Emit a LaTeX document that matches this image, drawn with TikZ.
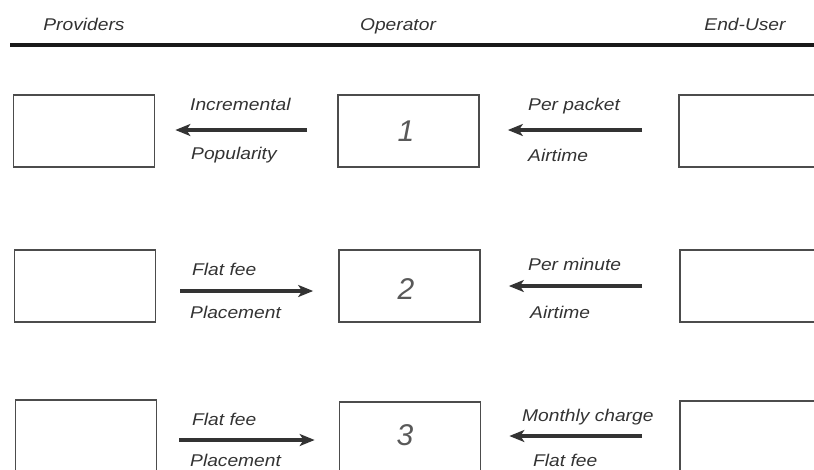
\documentclass[tikz,border=0pt]{standalone}
\usepackage{fontspec}
\usepackage{graphicx}
\setmainfont{Liberation Sans}
\usetikzlibrary{arrows.meta}
\newcommand{\wide}[1]{\scalebox{1.13}[1]{#1}}
\tikzset{
  box/.style={draw=black!70, line width=1.7pt, minimum width=141pt, minimum height=72pt, inner sep=0pt},
  lbl/.style={anchor=base west, inner sep=0pt, text=black!80, font=\fontsize{17}{20}\selectfont\itshape},
  hdr/.style={anchor=base, inner sep=0pt, text=black!80, font=\fontsize{17}{20}\selectfont\itshape},
  digit/.style={inner sep=0pt, text=black!65, font=\fontsize{30}{34}\selectfont\itshape},
  arr/.style={draw=black!80, line width=4pt, -{Stealth[length=15pt,width=12pt,inset=4pt]}}
}
\begin{document}
\begin{tikzpicture}[x=1pt,y=-1pt]
\useasboundingbox (0,0) rectangle (814,469);
\clip (0,0) rectangle (814,469);
% header
\node[hdr] (hP) at (84,30) {\wide{Providers}};
\node[hdr] (hO) at (398,30) {\wide{Operator}};
\node[hdr] (hE) at (745,30) {\wide{End-User}};
\coordinate (l0) at (10,45);
\coordinate (l1) at (820,45);
\draw[line width=4.5pt, black!90] (l0) -- (l1);
% row 1
\node[box] (p1) at (84,131) {};
\node[box] (m1) at (408.5,131) {};
\node[box] (e1) at (749.5,131) {};
\node[digit] (d1) at (406,131) {1};
\draw[arr] ([xshift=-30pt,yshift=1pt]m1.west) -- ([xshift=20pt,yshift=1pt]p1.east);
\draw[arr] ([xshift=-36pt,yshift=1pt]e1.west) -- ([xshift=28pt,yshift=1pt]m1.east);
\node[lbl] (a1) at (190,110) {\wide{Incremental}};
\node[lbl] (b1) at (191,159) {\wide{Popularity}};
\node[lbl] (c1) at (528,110) {\wide{Per packet}};
\node[lbl] (f1) at (528,161) {\wide{Airtime}};
% row 2
\node[box] (p2) at (85,286) {};
\node[box] (m2) at (409.5,286) {};
\node[box] (e2) at (750.5,286) {};
\node[digit] (d2) at (406,289) {2};
\draw[arr] ([xshift=24pt,yshift=-5pt]p2.east) -- ([xshift=-25pt,yshift=-5pt]m2.west);
\draw[arr] ([xshift=-37pt]e2.west) -- ([xshift=28pt]m2.east);
\node[lbl] (a2) at (192,275) {\wide{Flat fee}};
\node[lbl] (b2) at (190,318) {\wide{Placement}};
\node[lbl] (c2) at (528,270) {\wide{Per minute}};
\node[lbl] (f2) at (530,318) {\wide{Airtime}};
% row 3
\node[box] (p3) at (86,436) {};
\node[box] (m3) at (410,438) {};
\node[box] (e3) at (750.5,437) {};
\node[digit] (d3) at (405,435) {3};
\draw[arr] ([xshift=22pt,yshift=-4pt]p3.east) -- ([xshift=-24pt,yshift=-2pt]m3.west);
\draw[arr] ([xshift=-37pt,yshift=1pt]e3.west) -- ([xshift=28pt,yshift=2pt]m3.east);
\node[lbl] (a3) at (192,425) {\wide{Flat fee}};
\node[lbl] (b3) at (190,466) {\wide{Placement}};
\node[lbl] (c3) at (522,421) {\wide{Monthly charge}};
\node[lbl] (f3) at (533,466) {\wide{Flat fee}};
\end{tikzpicture}
\end{document}
